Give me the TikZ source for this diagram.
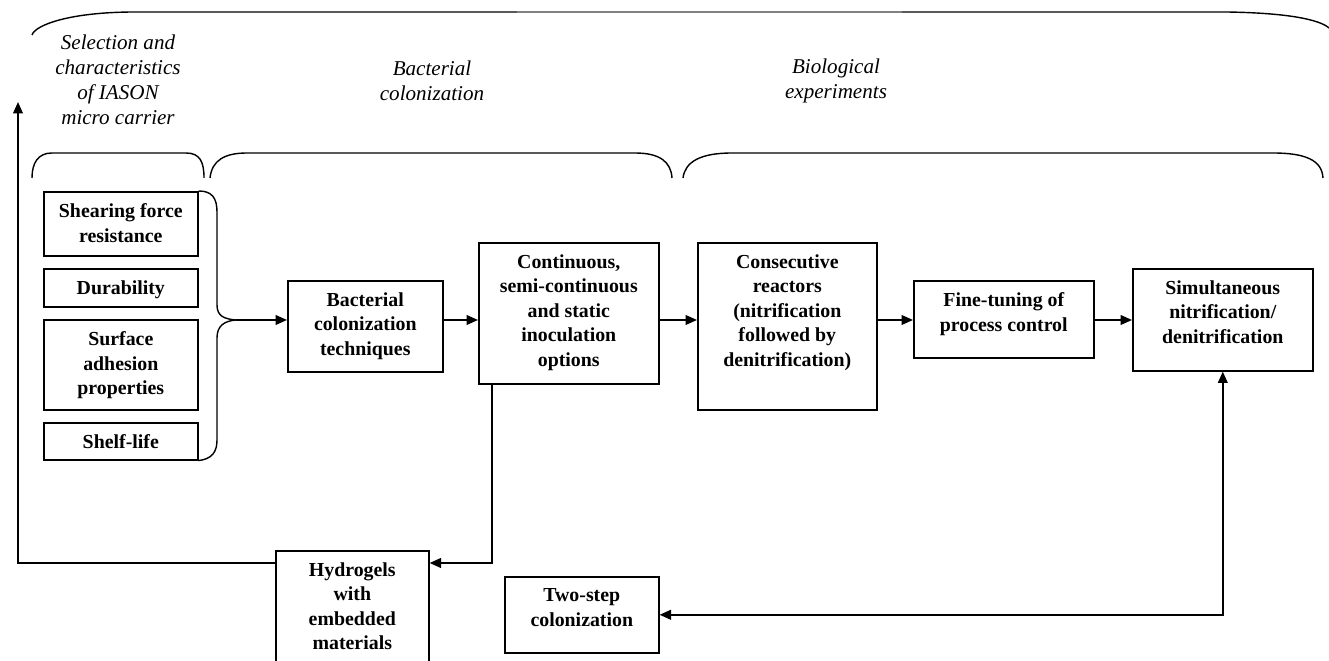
\documentclass[tikz,border=0pt]{standalone}
\usepackage{fontspec}
\setmainfont{Liberation Serif}
\usetikzlibrary{arrows.meta, positioning, calc}
\newlength{\px}
\setlength{\px}{0.02cm}
\newlength{\boxpad}
\setlength{\boxpad}{12\px}
\tikzset{
  every picture/.style={line width=0.9pt},
  box/.style 2 args={draw=black, line width=0.9pt, inner xsep=0pt, inner ysep=\boxpad, anchor=north west,
    execute at begin node={\begin{minipage}[c][#2\px][t]{#1\px}\centering\bfseries\fontsize{11.3}{13.9}\selectfont},
    execute at end node={\end{minipage}}},
  phase/.style={font={\itshape\fontsize{12}{14.2}\selectfont}, align=center, inner sep=0pt},
  brace/.style={draw=black, line width=0.8pt},
  arrow/.style={-{Triangle[length=6.5pt, width=5.5pt]}, draw=black, line width=1.1pt},
  both/.style={{Triangle[length=6.5pt, width=5.5pt]}-{Triangle[length=6.5pt, width=5.5pt]}, draw=black, line width=1.1pt},
}

\begin{document}
\begin{tikzpicture}[x=0.02cm, y=-0.02cm]
  \useasboundingbox (0,0) rectangle (1329,661);
  \clip (0,0) rectangle (1329,661);
  \draw[brace] (32,35) .. controls (35,25) and (70,12) .. (135,12) -- (1227,12) .. controls (1290,13) and (1320,20) .. (1329,28);
  \draw[gray, line width=0.8pt] (517,12) -- (902,12);
  \node[phase] (selection) at (118,80) {Selection and\\characteristics\\of IASON\\micro carrier};
  \node[phase] (bacterial) at (432,81) {Bacterial\\colonization};
  \node[phase] (biological) at (836,81) {Biological\\experiments};
  \draw[brace] (32,178) .. controls (32,163) and (38,153) .. (52,153) -- (186,153) .. controls (200,153) and (204,162) .. (204,178);
  \draw[brace] (210,178) .. controls (212,160) and (225,153) .. (247,153) -- (635,153) .. controls (660,153) and (671,162) .. (672,178);
  \draw[brace] (683,178) .. controls (685,162) and (700,153) .. (732,153) -- (1273,153) .. controls (1305,153) and (1322,160) .. (1323,178);
  \node[box={154}{40}] (shear) at (43,191) {Shearing force\\resistance};
  \node[box={154}{14}] (dura) at (43,268) {Durability};
  \node[box={154}{66}] (surf) at (43,319) {Surface\\adhesion\\properties};
  \node[box={154}{13}] (shelf) at (43,422) {Shelf-life};
  \coordinate (tip) at (236,320);
  \draw[brace] (shear.north east) .. controls (212,191) and (217,198) .. (217,212) -- (217,305) .. controls (217,316) and (224,319) .. (tip) .. controls (224,321) and (217,326) .. (217,338) -- (217,440) .. controls (217,452) and (212,459) .. (shelf.south east);
  \node[box={155}{67}] (bct) at (287,280) {Bacterial\\colonization\\techniques};
  \node[box={180}{117}] (cont) at (478,242) {Continuous,\\semi-continuous\\and static\\inoculation\\options};
  \node[box={179}{143}] (cons) at (697,242) {Consecutive\\reactors\\(nitrification\\followed by\\denitrification)};
  \node[box={180}{53}] (fine) at (913,280) {Fine-tuning of\\process control};
  \node[box={180}{78}] (simu) at (1132,268) {Simultaneous\\nitrification/\\denitrification};
  \node[box={153}{101}] (hydro) at (275,550) {Hydrogels\\with\\embedded\\materials};
  \node[box={154}{52}] (two) at (504,576) {Two-step\\colonization};
  \coordinate (upend) at (18,102);
  \draw[arrow] (tip) -- (tip -| bct.west);
  \draw[arrow] (bct.east |- tip) -- (cont.west |- tip);
  \draw[arrow] (cont.east |- tip) -- (cons.west |- tip);
  \draw[arrow] (cons.east |- tip) -- (fine.west |- tip);
  \draw[arrow] (fine.east |- tip) -- (simu.west |- tip);
  \draw[arrow] ([xshift=14\px]cont.south west) |- ([yshift=-13\px]hydro.north east);
  \draw[arrow] ([yshift=-13\px]hydro.north west) -| (upend);
  \draw[both] (two.east) -| (simu.south);
\end{tikzpicture}
\end{document}
